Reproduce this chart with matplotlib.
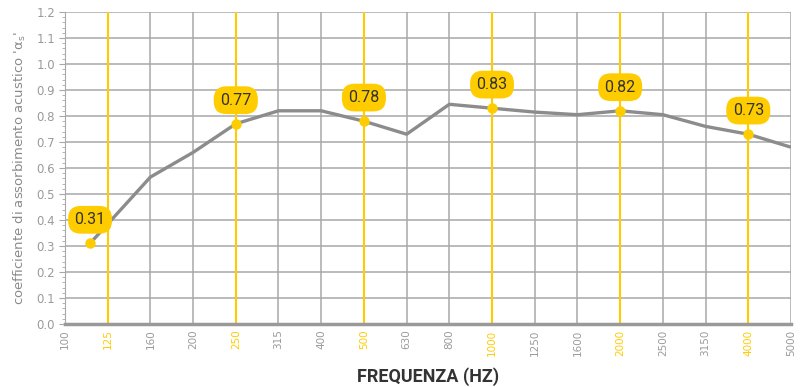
import numpy as np
import matplotlib.pyplot as plt
from matplotlib.ticker import MultipleLocator, FixedLocator, FormatStrFormatter

# third-octave bands shown on the x axis
bands = [100, 125, 160, 200, 250, 315, 400, 500, 630, 800, 1000,
         1250, 1600, 2000, 2500, 3150, 4000, 5000]
octave_bands = [125, 250, 500, 1000, 2000, 4000]

# measured absorption curve (frequency in Hz, alpha_s)
curve_freq = [114, 160, 200, 250, 315, 400, 500, 630, 800, 1000,
              1250, 1600, 2000, 2500, 3150, 4000, 5000]
curve_alpha = [0.31, 0.565, 0.66, 0.77, 0.82, 0.82, 0.78, 0.73, 0.845, 0.83,
               0.815, 0.805, 0.82, 0.805, 0.76, 0.73, 0.68]

# highlighted points with value labels
marked_freq = [114, 250, 500, 1000, 2000, 4000]
marked_alpha = [0.31, 0.77, 0.78, 0.83, 0.82, 0.73]

YELLOW = '#ffcc00'
GRID = '#a8a8a8'
LINE = '#8c8c8c'
TXT = '#9a9a9a'

def band_pos(f):
    # map a frequency onto the evenly spaced band axis (log interpolation)
    return np.interp(np.log10(f), np.log10(bands), np.arange(len(bands)))

fig = plt.figure(figsize=(8.01, 3.87), dpi=100)
ax = fig.add_axes([0.0811, 0.1628, 0.9064, 0.8062])
ax.set_axisbelow(True)

ax.set_xlim(0, len(bands) - 1)
ax.set_ylim(0, 1.2)

ax.xaxis.set_major_locator(FixedLocator(np.arange(len(bands))))
ax.yaxis.set_major_locator(MultipleLocator(0.1))
ax.yaxis.set_minor_locator(MultipleLocator(0.02))
ax.yaxis.set_major_formatter(FormatStrFormatter('%.1f'))
ax.grid(True, which='major', color=GRID, lw=1.1, zorder=0)

for f in octave_bands:
    ax.axvline(band_pos(f), color=YELLOW, lw=1.5, zorder=1)

ax.plot(band_pos(curve_freq), curve_alpha, color=LINE, lw=2.4, zorder=2,
        solid_capstyle='butt')
ax.plot(band_pos(marked_freq), marked_alpha, 'o', color=YELLOW, ms=7.5,
        mec='none', zorder=3)

for f, a in zip(marked_freq, marked_alpha):
    ax.annotate(f'{a:.2f}', (band_pos(f), a), xytext=(0, 17),
                textcoords='offset points', ha='center', va='center',
                fontsize=11.5, color='#333333', family='Roboto', zorder=4,
                bbox=dict(boxstyle='round,pad=0.4,rounding_size=0.8',
                          fc=YELLOW, ec='none'))

ax.set_xticklabels([str(b) for b in bands], rotation=90, fontsize=7.5)
for lbl, b in zip(ax.get_xticklabels(), bands):
    lbl.set_color(YELLOW if b in octave_bands else TXT)

ax.tick_params(axis='x', length=0, pad=4)
ax.tick_params(axis='y', which='major', length=4, color=GRID, pad=3,
               labelsize=8.5, labelcolor=TXT)
ax.tick_params(axis='y', which='minor', length=2, color=GRID)

for side in ['top', 'right']:
    ax.spines[side].set_visible(False)
ax.spines['left'].set_color(GRID)
ax.spines['bottom'].set_color('#999999')
ax.spines['bottom'].set_linewidth(2.5)

ax.set_ylabel("coefficiente di assorbimento acustico '$\\mathregular{\\alpha_s}$'",
              fontsize=9.5, color='#8a8a8a', labelpad=6)
ax.set_xlabel('FREQUENZA (HZ)', fontsize=13, fontweight='bold',
              color='#333333', family='Roboto', labelpad=8)

fig.savefig('out.png', dpi=100)
